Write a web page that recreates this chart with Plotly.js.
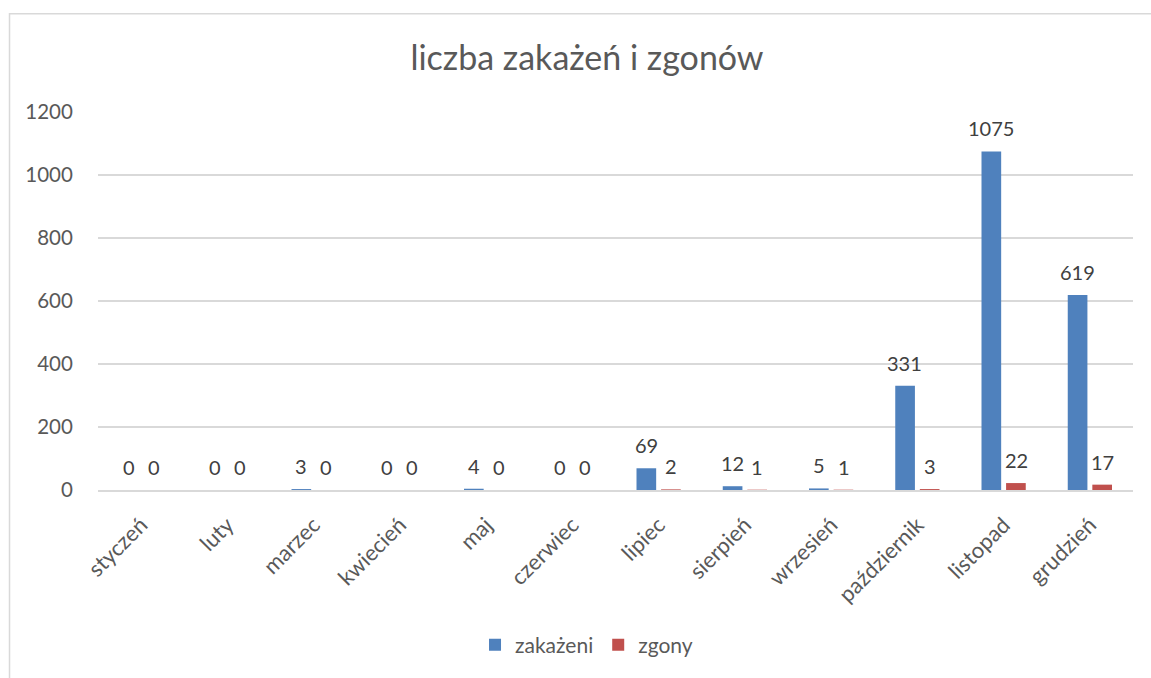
<!DOCTYPE html>
<html>
<head>
<meta charset="utf-8">
<script src="https://cdn.plot.ly/plotly-3.0.1.min.js"></script>
<style>html,body{margin:0;padding:0;background:#fff;}#chart{width:1151px;height:678px;}</style>
</head>
<body>
<div id="chart"></div>
<script>
const months = ["styczeń","luty","marzec","kwiecień","maj","czerwiec","lipiec","sierpień","wrzesień","październik","listopad","grudzień"];
const zakazeni = [0,0,3,0,4,0,69,12,5,331,1075,619];
const zgony = [0,0,0,0,0,0,2,1,1,3,22,17];
const yTicks = [0,200,400,600,800,1000,1200];

const FONT = "Lato, 'Open Sans', sans-serif";
const labelFont = {family: FONT, size: 20, color: "#404040"};

const traces = [
  {type:"bar", name:"zakażeni", x:months, y:zakazeni, marker:{color:"#4F81BD"}, hoverinfo:"none"},
  {type:"bar", name:"zgony", x:months, y:zgony, marker:{color:"#C0504D"}, hoverinfo:"none"}
];

function labels(vals, shift) {
  return vals.map((v, i) => ({
    x: months[i], y: v, xref: "x", yref: "y", text: String(v),
    showarrow: false, xanchor: "center", yanchor: "bottom",
    xshift: shift, yshift: 9, font: labelFont
  }));
}

const layout = {
  width:1151, height:678,
  margin:{l:98, r:18, t:112, b:186},
  paper_bgcolor:"#fff", plot_bgcolor:"#fff",
  title:{text:"liczba zakażeń i zgonów", font:{family:FONT, size:34, color:"#595959"}, x:0.51, xanchor:"center", y:0.915, yanchor:"middle"},
  barmode:"group", bargap:0.43, bargroupgap:0.2,
  font:{family:FONT, color:"#595959"},
  xaxis:{tickangle:-45, tickfont:{family:FONT, size:22, color:"#595959"}, showline:true, linecolor:"#D9D9D9", linewidth:1.5, ticks:"", ticklabelstandoff:12, fixedrange:true},
  yaxis:{range:[0,1200], tickvals:yTicks, ticktext:yTicks.map(String), tickfont:{family:FONT, size:20.5, color:"#595959"}, gridcolor:"#D9D9D9", gridwidth:1.5, zeroline:false, showline:false, ticks:"outside", tickcolor:"rgba(0,0,0,0)", ticklen:20},
  showlegend:true,
  legend:{orientation:"h", x:0.472, xanchor:"center", y:-0.41, yanchor:"middle", font:{family:FONT, size:21, color:"#595959"}, itemwidth:30, traceorder:"normal"},
  annotations: labels(zakazeni, -12.5).concat(labels(zgony, 12.5)),
  shapes:[{type:"rect", xref:"paper", yref:"paper", x0:-0.0855, x1:1.2, y0:-0.6, y1:1.26, line:{color:"#D9D9D9", width:1.5}, fillcolor:"rgba(0,0,0,0)", layer:"below"}]
};

Plotly.newPlot("chart", traces, layout, {displayModeBar:false, staticPlot:true});
</script>
</body>
</html>
